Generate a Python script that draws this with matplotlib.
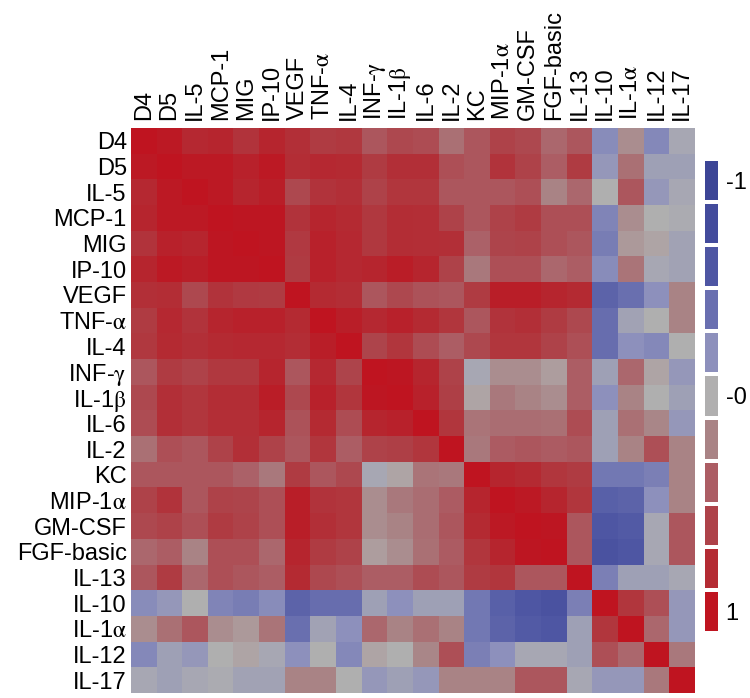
import numpy as np
import matplotlib
matplotlib.use('Agg')
import matplotlib.pyplot as plt
from matplotlib.colors import LinearSegmentedColormap

plt.rcParams['font.family'] = ['Liberation Sans', 'DejaVu Sans']
plt.rcParams['mathtext.fontset'] = 'stix'

# labels (same order for rows and columns)
labels = ['D4', 'D5', 'IL-5', 'MCP-1', 'MIG', 'IP-10', 'VEGF', r'TNF-$\mathrm{\alpha}$',
          'IL-4', r'INF-$\mathrm{\gamma}$', r'IL-1$\mathrm{\beta}$', 'IL-6', 'IL-2', 'KC',
          r'MIP-1$\mathrm{\alpha}$', 'GM-CSF', 'FGF-basic', 'IL-13', 'IL-10',
          r'IL-1$\mathrm{\alpha}$', 'IL-12', 'IL-17']

# correlation values
corr = np.array([
    [1.0, 0.95, 0.82, 0.85, 0.72, 0.85, 0.75, 0.65, 0.68, 0.45, 0.55, 0.52, 0.3, 0.45, 0.6, 0.55, 0.35, 0.45, -0.22, 0.15, -0.25, -0.05],
    [0.95, 1.0, 0.95, 0.95, 0.88, 0.95, 0.78, 0.82, 0.8, 0.65, 0.75, 0.75, 0.5, 0.45, 0.72, 0.6, 0.4, 0.65, -0.15, 0.3, -0.1, -0.1],
    [0.82, 0.95, 1.0, 0.95, 0.85, 0.9, 0.55, 0.72, 0.75, 0.6, 0.7, 0.7, 0.45, 0.45, 0.45, 0.5, 0.2, 0.35, 0.0, 0.45, -0.15, -0.05],
    [0.85, 0.95, 0.95, 1.0, 0.97, 0.97, 0.72, 0.85, 0.8, 0.68, 0.78, 0.77, 0.6, 0.45, 0.6, 0.65, 0.5, 0.5, -0.27, 0.15, 0.0, -0.03],
    [0.72, 0.88, 0.85, 0.97, 1.0, 0.97, 0.67, 0.88, 0.82, 0.68, 0.78, 0.77, 0.75, 0.38, 0.58, 0.6, 0.5, 0.45, -0.32, 0.1, 0.05, -0.08],
    [0.85, 0.95, 0.9, 0.97, 0.97, 1.0, 0.65, 0.88, 0.82, 0.85, 0.92, 0.85, 0.6, 0.25, 0.5, 0.5, 0.35, 0.4, -0.22, 0.28, -0.05, -0.08],
    [0.75, 0.78, 0.55, 0.72, 0.67, 0.65, 1.0, 0.8, 0.78, 0.45, 0.55, 0.48, 0.45, 0.65, 0.9, 0.9, 0.85, 0.8, -0.5, -0.4, -0.2, 0.2],
    [0.65, 0.82, 0.72, 0.85, 0.88, 0.88, 0.8, 1.0, 0.9, 0.82, 0.88, 0.8, 0.7, 0.45, 0.72, 0.75, 0.65, 0.55, -0.42, -0.08, 0.0, 0.2],
    [0.68, 0.8, 0.75, 0.8, 0.82, 0.82, 0.78, 0.9, 1.0, 0.58, 0.7, 0.52, 0.4, 0.55, 0.7, 0.7, 0.6, 0.5, -0.42, -0.2, -0.25, 0.0],
    [0.45, 0.65, 0.6, 0.68, 0.68, 0.85, 0.45, 0.82, 0.58, 1.0, 0.97, 0.85, 0.6, -0.05, 0.15, 0.15, 0.08, 0.4, -0.1, 0.35, 0.05, -0.15],
    [0.55, 0.75, 0.7, 0.78, 0.78, 0.92, 0.55, 0.88, 0.7, 0.97, 1.0, 0.88, 0.62, 0.05, 0.25, 0.2, 0.15, 0.4, -0.2, 0.2, 0.0, -0.1],
    [0.52, 0.75, 0.7, 0.77, 0.77, 0.85, 0.48, 0.8, 0.52, 0.85, 0.88, 1.0, 0.7, 0.28, 0.32, 0.32, 0.3, 0.52, -0.1, 0.3, 0.18, -0.15],
    [0.3, 0.5, 0.45, 0.6, 0.75, 0.6, 0.45, 0.7, 0.4, 0.6, 0.62, 0.7, 1.0, 0.25, 0.42, 0.45, 0.42, 0.45, -0.1, 0.2, 0.5, 0.2],
    [0.45, 0.45, 0.45, 0.45, 0.38, 0.25, 0.65, 0.45, 0.55, -0.05, 0.05, 0.28, 0.25, 1.0, 0.85, 0.8, 0.7, 0.65, -0.35, -0.35, -0.3, 0.2],
    [0.6, 0.72, 0.45, 0.6, 0.58, 0.5, 0.9, 0.72, 0.7, 0.15, 0.25, 0.32, 0.42, 0.85, 1.0, 0.95, 0.85, 0.7, -0.52, -0.5, -0.2, 0.2],
    [0.55, 0.6, 0.5, 0.65, 0.6, 0.5, 0.9, 0.75, 0.7, 0.15, 0.2, 0.32, 0.45, 0.8, 0.95, 1.0, 0.97, 0.45, -0.6, -0.57, -0.05, 0.45],
    [0.35, 0.4, 0.2, 0.5, 0.5, 0.35, 0.85, 0.65, 0.6, 0.08, 0.15, 0.3, 0.42, 0.7, 0.85, 0.97, 1.0, 0.45, -0.66, -0.6, -0.05, 0.45],
    [0.45, 0.65, 0.35, 0.5, 0.45, 0.4, 0.8, 0.55, 0.5, 0.4, 0.4, 0.52, 0.45, 0.65, 0.7, 0.45, 0.45, 1.0, -0.3, -0.1, -0.1, -0.05],
    [-0.22, -0.15, 0.0, -0.27, -0.32, -0.22, -0.5, -0.42, -0.42, -0.1, -0.2, -0.1, -0.1, -0.35, -0.52, -0.6, -0.66, -0.3, 1.0, 0.7, 0.5, -0.15],
    [0.15, 0.3, 0.45, 0.15, 0.1, 0.28, -0.4, -0.08, -0.2, 0.35, 0.2, 0.3, 0.2, -0.35, -0.5, -0.57, -0.6, -0.1, 0.7, 1.0, 0.35, -0.15],
    [-0.25, -0.1, -0.15, 0.0, 0.05, -0.05, -0.2, 0.0, -0.25, 0.05, 0.0, 0.18, 0.5, -0.3, -0.2, -0.05, -0.05, -0.1, 0.5, 0.35, 1.0, 0.25],
    [-0.05, -0.1, -0.05, -0.03, -0.08, -0.08, 0.2, 0.2, 0.0, -0.15, -0.1, -0.15, 0.2, 0.2, 0.2, 0.45, 0.45, -0.05, -0.15, -0.15, 0.25, 1.0],
])

# colour key: 11 steps from -1 (blue) to 1 (red)
key_levels = [-1.0, -0.8, -0.6, -0.4, -0.2, 0.0, 0.2, 0.4, 0.6, 0.8, 1.0]
key_colors = ['#3c4596', '#434b9c', '#4e56a3', '#6a70b0', '#8d90bc', '#b0b0b0',
              '#a98385', '#ac5e65', '#ae4249', '#b42b33', '#bf1420']

cmap = LinearSegmentedColormap.from_list(
    'bgr', list(zip(np.linspace(0, 1, len(key_colors)), key_colors)))

fig = plt.figure(figsize=(7.5, 6.98), dpi=100)

# heatmap
ax = fig.add_axes([131 / 750, 5 / 698, 564 / 750, 565 / 698])
ax.imshow(corr, cmap=cmap, vmin=-1, vmax=1, aspect='auto', interpolation='nearest')
ax.set_xticks(range(len(labels)))
ax.set_xticklabels(labels, rotation=90)
ax.xaxis.tick_top()
ax.set_yticks(range(len(labels)))
ax.set_yticklabels(labels)
ax.tick_params(length=0, labelsize=17)
ax.tick_params(axis='x', pad=6)
ax.tick_params(axis='y', pad=3)
for s in ax.spines.values():
    s.set_visible(False)

# colour key
cax = fig.add_axes([703 / 750, 65 / 698, 17 / 750, 474 / 698])
cax.pcolormesh(np.array(key_levels).reshape(-1, 1), cmap=cmap, vmin=-1, vmax=1,
               edgecolors='white', linewidth=1.5)
cax.set_ylim(len(key_levels), 0)
cax.set_xticks([])
cax.yaxis.tick_right()
cax.set_yticks([0.5, 5.5, 10.5])
cax.set_yticklabels(['-1', '-0', '1'])
cax.tick_params(length=0, pad=4, labelsize=17)
for s in cax.spines.values():
    s.set_visible(False)

fig.savefig('out.png', dpi=100)
